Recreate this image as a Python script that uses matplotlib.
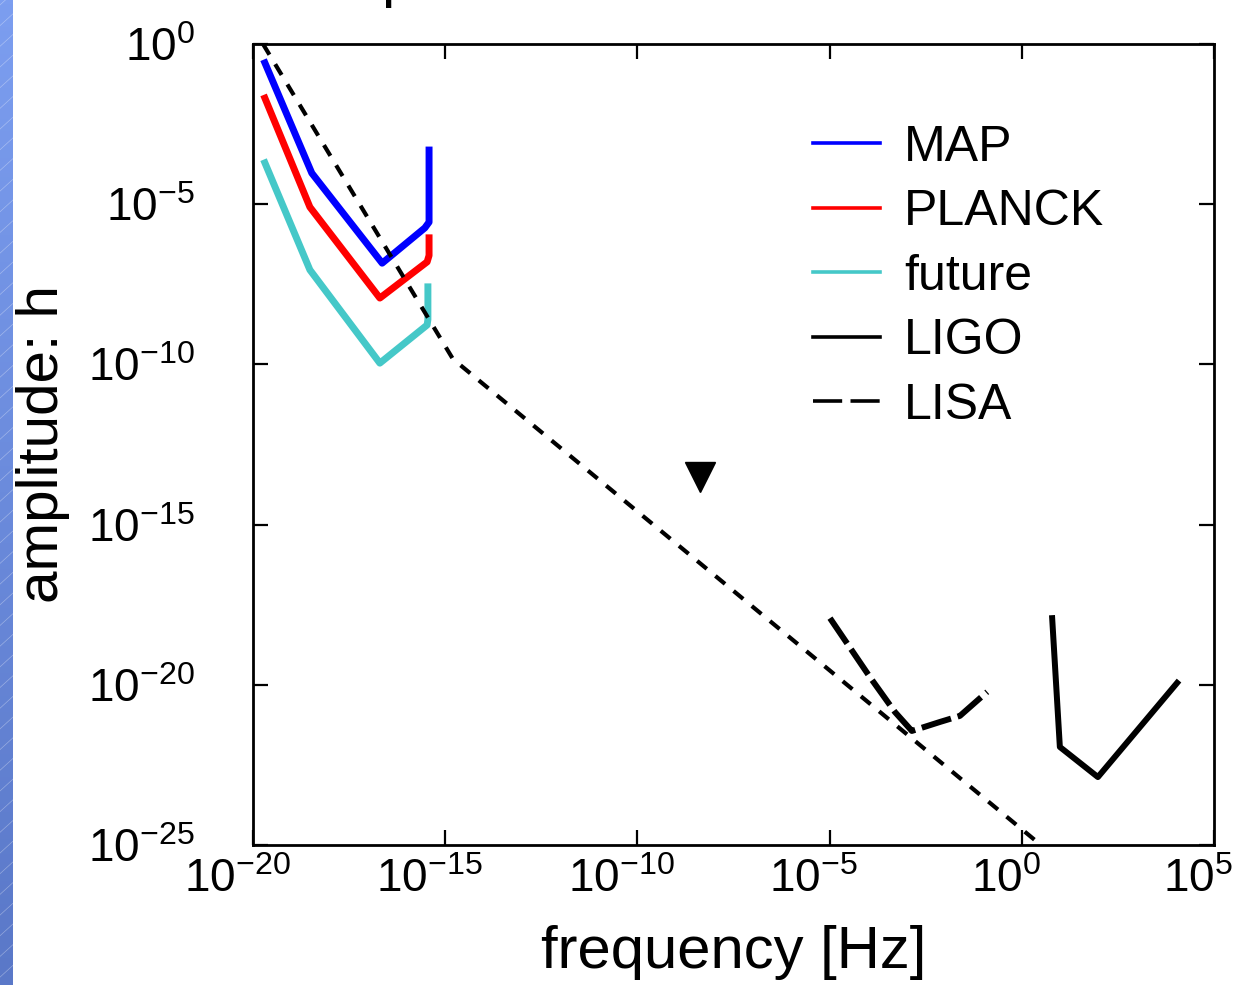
import numpy as np
import matplotlib
matplotlib.use('Agg')
import matplotlib.pyplot as plt
from matplotlib.lines import Line2D
from matplotlib.transforms import ScaledTranslation

plt.rcParams['font.family'] = ['Liberation Sans', 'DejaVu Sans']
plt.rcParams['mathtext.fontset'] = 'custom'
plt.rcParams['mathtext.rm'] = 'Liberation Sans'
plt.rcParams['lines.scale_dashes'] = False

# log10 of frequency [Hz] and amplitude h
map_logf = [-19.69, -18.47, -16.64, -15.53, -15.42, -15.42]
map_logh = [-0.59, -4.03, -6.84, -5.74, -5.56, -3.31]

planck_logf = [-19.69, -18.52, -16.70, -15.47, -15.42, -15.42]
planck_logh = [-1.69, -5.09, -7.93, -6.80, -6.60, -6.05]

future_logf = [-19.69, -18.52, -16.70, -15.47, -15.45, -15.45]
future_logh = [-3.71, -7.05, -9.96, -8.77, -8.60, -7.58]

model_logf = [-19.74, -14.80, 1.0]
model_logh = [0.0, -9.83, -25.5]

lisa_logf = [-4.99, -3.95, -3.30, -2.86, -2.13, -1.61, -0.90]
lisa_logh = [-17.92, -19.76, -20.85, -21.44, -21.16, -20.97, -20.22]

ligo_logf = [0.79, 0.99, 1.98, 4.04]
ligo_logh = [-17.92, -21.94, -22.88, -19.94]

marker_logf = -8.37
marker_logh = -13.51

xticks = [1e-20, 1e-15, 1e-10, 1e-5, 1e0, 1e5]
yticks = [1e-25, 1e-20, 1e-15, 1e-10, 1e-5, 1e0]


def pw(a):
    return 10.0 ** np.asarray(a)


fig = plt.figure(figsize=(12.46, 9.85), dpi=100)
fig.patch.set_facecolor('white')

# blue side strip of the slide
strip = fig.add_axes([0, 0, 13 / 1246, 1])
grad = np.linspace(0, 1, 256).reshape(-1, 1)
strip.imshow(grad, aspect='auto', extent=[0, 1, 0, 1],
             cmap=matplotlib.colors.LinearSegmentedColormap.from_list(
                 'strip', ['#7c9ef0', '#5a78c8']))
for k in np.arange(-1, 1.2, 0.021):
    strip.plot([0, 1], [k, k + 0.012], color='white', lw=0.5, alpha=0.35)
strip.set_xlim(0, 1)
strip.set_ylim(0, 1)
strip.axis('off')

ax = fig.add_axes([253 / 1246, 1 - 845 / 985, 961 / 1246, 801 / 985])
ax.set_xscale('log')
ax.set_yscale('log')
ax.set_xlim(1e-20, 1e5)
ax.set_ylim(1e-25, 1e0)

ax.plot(pw(map_logf), pw(map_logh), color='#0000ff', lw=5,
        solid_joinstyle='round')
ax.plot(pw(planck_logf), pw(planck_logh), color='#ff0000', lw=5,
        solid_joinstyle='round')
ax.plot(pw(future_logf), pw(future_logh), color='#45c8c8', lw=5,
        solid_joinstyle='round')
ax.plot(pw(model_logf), pw(model_logh), color='black', lw=3,
        dashes=(9, 8))
ax.plot(pw(lisa_logf), pw(lisa_logh), color='black', lw=4.3,
        dashes=(22, 5))
ax.plot(pw(ligo_logf), pw(ligo_logh), color='black', lw=4.3,
        solid_joinstyle='round')
ax.plot([10 ** marker_logf], [10 ** marker_logh], marker='v', ms=22,
        color='black', ls='none')

ax.set_xticks(xticks)
ax.set_yticks(yticks)
ax.minorticks_off()
ax.xaxis.set_major_formatter(
    lambda v, _: r'$\mathregular{10^{%d}}$' % round(np.log10(v)))
ax.yaxis.set_major_formatter(
    lambda v, _: r'$\mathregular{10^{%d}}$' % round(np.log10(v)))
ax.tick_params(which='both', direction='in', length=11, width=1.6,
               top=True, right=True, labelsize=33)
ax.tick_params(axis='x', pad=9)
ax.tick_params(axis='y', pad=42)
for sp in ax.spines.values():
    sp.set_linewidth(2)

shift = ScaledTranslation(-16 / 100, 0, fig.dpi_scale_trans)
for t in ax.xaxis.get_major_ticks():
    t.label1.set_transform(t.label1.get_transform() + shift)

ax.set_xlabel('frequency [Hz]', fontsize=43)
ax.xaxis.set_label_coords(0.5, -0.1)
ax.set_ylabel('amplitude: h', fontsize=42)
ax.yaxis.set_label_coords(-0.19, 0.5)

handles = [
    Line2D([], [], color='#0000ff', lw=2.6),
    Line2D([], [], color='#ff0000', lw=2.6),
    Line2D([], [], color='#45c8c8', lw=2.6),
    Line2D([], [], color='black', lw=2.6),
    Line2D([], [], color='black', lw=2.6, dashes=(21, 6)),
]
labels = ['MAP', 'PLANCK', 'future', 'LIGO', 'LISA']
ax.legend(handles, labels, loc='upper left', bbox_to_anchor=(0.583, 0.899),
          frameon=False, fontsize=36, handlelength=1.33, handletextpad=0.48,
          labelspacing=0.37, borderpad=0, borderaxespad=0)

# descender of the clipped slide title
fig.text(381 / 1246, 1 + 4 / 985, 'p', fontsize=43, va='baseline')

fig.savefig('out.png', dpi=100)
